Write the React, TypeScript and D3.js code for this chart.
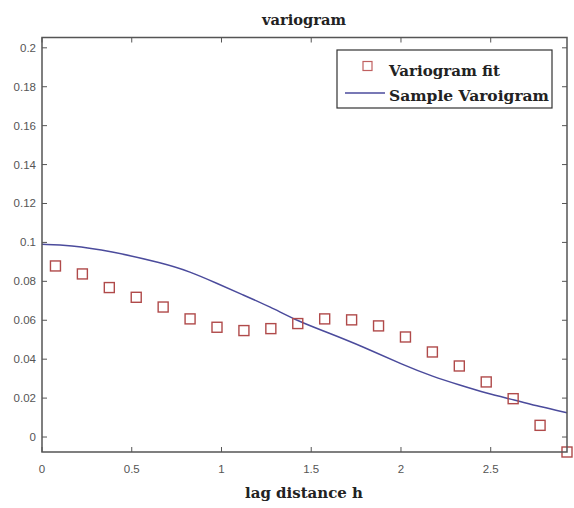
import React from "react";
import * as d3 from "d3";

const fitLag = [0.075, 0.225, 0.375, 0.525, 0.675, 0.825, 0.975, 1.125, 1.275, 1.425, 1.575, 1.725, 1.875, 2.025, 2.175, 2.325, 2.475, 2.625, 2.775, 2.925];
const fitValue = [0.0879, 0.0838, 0.0768, 0.0718, 0.0668, 0.0607, 0.0564, 0.0547, 0.0557, 0.0583, 0.0607, 0.0602, 0.0571, 0.0514, 0.0437, 0.0365, 0.0283, 0.0197, 0.006, -0.0077];

const sampleLag = [0, 0.156, 0.379, 0.675, 0.824, 0.973, 1.121, 1.269, 1.431, 1.58, 1.789, 2.012, 2.179, 2.327, 2.476, 2.634, 2.773, 2.925];
const sampleValue = [0.099, 0.0986, 0.0956, 0.0893, 0.085, 0.079, 0.073, 0.067, 0.0593, 0.0541, 0.0464, 0.037, 0.031, 0.0267, 0.0225, 0.019, 0.0156, 0.0125];

const xTicks = [0, 0.5, 1, 1.5, 2, 2.5];
const yTicks = [0, 0.02, 0.04, 0.06, 0.08, 0.1, 0.12, 0.14, 0.16, 0.18, 0.2];
const xTickLabels = ["0", "0.5", "1", "1.5", "2", "2.5"];
const yTickLabels = ["0", "0.02", "0.04", "0.06", "0.08", "0.1", "0.12", "0.14", "0.16", "0.18", "0.2"];

const W = 574, H = 508;
const L = 42, R = 567, T = 37.5, B = 452;

export default function App() {
  const x = d3.scaleLinear().domain([0, 2.925]).range([L, R]);
  const y = d3.scaleLinear().domain([-0.0077, 0.2053]).range([B, T]);
  const line = d3.line<number>()
    .x((_, i) => x(sampleLag[i]))
    .y((d) => y(d))
    .curve(d3.curveBasis);
  const axisColor = "#555";
  const tickFont = "'Liberation Sans', Arial, sans-serif";
  const serif = "'DejaVu Serif', serif";
  const sq = 10;
  return (
    <svg width={W} height={H} style={{ position: "absolute", left: 0, top: 0, background: "#fff" }}>
      <rect x={0} y={0} width={W} height={H} fill="#fff" />
      <text x={304} y={25} textAnchor="middle" fontFamily={serif} fontWeight="bold" fontSize={15} fill="#222" textLength={84} lengthAdjust="spacingAndGlyphs">variogram</text>
      {xTicks.map((t, i) => (
        <g key={"x" + i}>
          <line x1={x(t)} x2={x(t)} y1={B} y2={B - 5} stroke={axisColor} />
          <line x1={x(t)} x2={x(t)} y1={T} y2={T + 5} stroke={axisColor} />
          <text x={x(t)} y={472.5} textAnchor="middle" fontFamily={tickFont} fontSize={11.5} fill="#555">{xTickLabels[i]}</text>
        </g>
      ))}
      {yTicks.map((t, i) => (
        <g key={"y" + i}>
          <line x1={L} x2={L + 5} y1={y(t)} y2={y(t)} stroke={axisColor} />
          <line x1={R} x2={R - 5} y1={y(t)} y2={y(t)} stroke={axisColor} />
          <text x={36} y={y(t) + 4} textAnchor="end" fontFamily={tickFont} fontSize={11.5} fill="#555">{yTickLabels[i]}</text>
        </g>
      ))}
      <path d={line(sampleValue) || ""} fill="none" stroke="#4b4b9c" strokeWidth={1.5} />
      {fitValue.map((v, i) => (
        <rect key={"s" + i} x={x(fitLag[i]) - sq / 2} y={y(v) - sq / 2} width={sq} height={sq} fill="none" stroke="#b04a4a" strokeWidth={1.4} />
      ))}
      <rect x={L} y={T} width={R - L} height={B - T} fill="none" stroke={axisColor} strokeWidth={1.5} />
      <rect x={337} y={50} width={215} height={58} fill="#fff" stroke="#333" strokeWidth={1.2} />
      <rect x={367.5 - 4.5} y={66 - 4.5} width={9} height={9} fill="none" stroke="#c06060" strokeWidth={1.2} />
      <text x={389} y={76} fontFamily={serif} fontWeight="bold" fontSize={15} fill="#222" textLength={111} lengthAdjust="spacingAndGlyphs">Variogram fit</text>
      <line x1={345} x2={385} y1={93} y2={93} stroke="#4b4b9c" strokeWidth={1.5} />
      <text x={389} y={101} fontFamily={serif} fontWeight="bold" fontSize={15} fill="#222" textLength={160} lengthAdjust="spacingAndGlyphs">Sample Varoigram</text>
      <text x={304} y={498} textAnchor="middle" fontFamily={serif} fontWeight="bold" fontSize={15} fill="#222" textLength={118} lengthAdjust="spacingAndGlyphs">lag distance h</text>
    </svg>
  );
}
